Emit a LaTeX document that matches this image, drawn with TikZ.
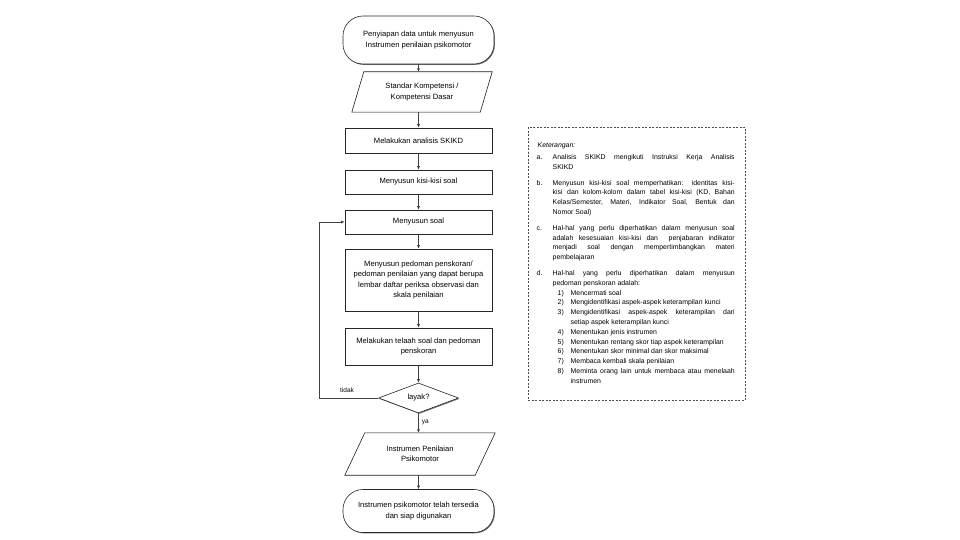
\documentclass[tikz,border=0pt]{standalone}
\usepackage{fontspec}
\setmainfont{Liberation Sans}
\usetikzlibrary{shapes.geometric,shadows,calc,arrows.meta}
\pgfdeclarelayer{bg}
\pgfsetlayers{bg,main}
\newcommand{\jl}[2]{\makebox[#1][s]{#2}}
\begin{document}
\begin{tikzpicture}[x=1pt,y=-1pt,
  font=\fontsize{7.6}{10.5}\selectfont,
  ds/.style={drop shadow={shadow xshift=0.9pt,shadow yshift=-0.9pt,fill=black!55,opacity=1}},
  box/.style={draw=black!85,line width=0.6pt,fill=white,ds,rectangle,minimum width=147pt,align=center,inner sep=1pt},
  term/.style={box,rounded corners=20pt,minimum width=151pt,minimum height=48pt},
  para/.style={rectangle,align=center,inner sep=0pt},
  pshape/.style={draw=black!85,line width=0.6pt,fill=white},
  pshadow/.style={fill=black!55},
  conn/.style={draw=black!75,line width=0.6pt,-{Latex[length=3.5pt,width=3pt]}},
  lbl/.style={font=\fontsize{6.5}{8}\selectfont,inner sep=0pt},
  keybox/.style={draw=black!70,line width=0.5pt,dash pattern=on 2pt off 1.5pt,rectangle,inner sep=0pt}
]
\useasboundingbox (0,0) rectangle (960,540);

% flow nodes
\node[term] (start) at (418.5,40) {Penyiapan data untuk menyusun\\Instrumen penilaian psikomotor};
\node[para,minimum width=140pt,minimum height=40pt] (p1) at (422,92) {Standar Kompetensi /\\Kompetensi Dasar};
\node[box,minimum height=25pt] (b1) at (418.5,140.5) {Melakukan analisis SKIKD};
\node[box,minimum height=24pt] (b2) at (418.5,182) {Menyusun kisi-kisi soal};
\node[box,minimum height=24pt] (b3) at (418.5,222) {Menyusun soal};
\node[box,minimum height=62pt] (b4) at (418.5,280) {Menyusun pedoman penskoran/\\pedoman penilaian yang dapat berupa\\lembar daftar periksa observasi dan\\skala penilaian};
\node[box,minimum height=37pt] (b5) at (418.5,346.5) {Melakukan telaah soal dan pedoman\\penskoran};
\node[draw=black!85,line width=0.6pt,fill=white,ds,diamond,minimum width=80pt,minimum height=30pt,inner sep=0pt] (d) at (418.5,398) {layak?};
\node[para,minimum width=150pt,minimum height=42pt] (p2) at (420,454) {Instrumen Penilaian\\Psikomotor};
\node[term,minimum height=43pt] (end) at (418.5,511) {Instrumen psikomotor telah tersedia\\dan siap digunakan};

% parallelogram outlines
\begin{pgfonlayer}{bg}
\path[pshadow,shift={(0.9,0.9)}] ($(p1.north west)+(12,0)$) -- (p1.north east) -- ($(p1.south east)+(-12,0)$) -- (p1.south west) -- cycle;
\path[pshape] ($(p1.north west)+(12,0)$) -- (p1.north east) -- ($(p1.south east)+(-12,0)$) -- (p1.south west) -- cycle;
\path[pshadow,shift={(0.9,0.9)}] ($(p2.north west)+(20,0)$) -- (p2.north east) -- ($(p2.south east)+(-20,0)$) -- (p2.south west) -- cycle;
\path[pshape] ($(p2.north west)+(20,0)$) -- (p2.north east) -- ($(p2.south east)+(-20,0)$) -- (p2.south west) -- cycle;
\end{pgfonlayer}

% connectors
\draw[conn] (start.south) -- (start.south |- p1.north);
\draw[conn] (b1.north |- p1.south) -- (b1.north);
\draw[conn] (b1) -- (b2);
\draw[conn] (b2) -- (b3);
\draw[conn] (b3) -- (b4);
\draw[conn] (b4) -- (b5);
\draw[conn] (b5) -- (d);
\draw[conn] (d.south) -- (d.south |- p2.north) node[lbl,pos=0.45,right=3pt] (ya) {ya};
\draw[conn] (end.north |- p2.south) -- (end.north);
\coordinate (lp) at (319,398);
\draw[conn] (d.west) -- (lp) |- (b3.west);
\node[lbl] (tidak) at (347,390) {tidak};

% key box
\node[keybox,minimum width=217pt,minimum height=273pt,anchor=north west] (key) at (528,127) {};
\node[anchor=base west,inner sep=0pt] (keytxt) at (536.5,147.5) {%
\begin{minipage}[t]{205pt}
\fontsize{6.9}{9.8}\selectfont
\hspace*{1pt}\textit{Keterangan:}\\[2.2pt]
\makebox[16pt][l]{a.}\jl{182pt}{Analisis SKIKD mengikuti Instruksi Kerja Analisis}\\
\hspace*{16pt}SKIKD\\[6pt]
\makebox[16pt][l]{b.}\jl{182pt}{Menyusun kisi-kisi soal memperhatikan: identitas kisi-}\\
\hspace*{16pt}\jl{182pt}{kisi dan kolom-kolom dalam tabel kisi-kisi (KD, Bahan}\\
\hspace*{16pt}\jl{182pt}{Kelas/Semester, Materi, Indikator Soal, Bentuk dan}\\
\hspace*{16pt}Nomor Soal)\\[6pt]
\makebox[16pt][l]{c.}\jl{182pt}{Hal-hal yang perlu diperhatikan dalam menyusun soal}\\
\hspace*{16pt}\jl{182pt}{adalah kesesuaian kisi-kisi dan \ penjabaran indikator}\\
\hspace*{16pt}\jl{182pt}{menjadi soal dengan mempertimbangkan materi}\\
\hspace*{16pt}pembelajaran\\[6pt]
\makebox[16pt][l]{d.}\jl{182pt}{Hal-hal yang perlu diperhatikan dalam menyusun}\\
\hspace*{16pt}pedoman penskoran adalah:\\
\hspace*{21pt}\makebox[13pt][l]{1)}Mencermati soal\\
\hspace*{21pt}\makebox[13pt][l]{2)}Mengidentifikasi aspek-aspek keterampilan kunci\\
\hspace*{21pt}\makebox[13pt][l]{3)}\jl{164pt}{Mengidentifikasi aspek-aspek keterampilan dari}\\
\hspace*{34pt}setiap aspek keterampilan kunci\\
\hspace*{21pt}\makebox[13pt][l]{4)}Menentukan jenis instrumen\\
\hspace*{21pt}\makebox[13pt][l]{5)}Menentukan rentang skor tiap aspek keterampilan\\
\hspace*{21pt}\makebox[13pt][l]{6)}Menentukan skor minimal dan skor maksimal\\
\hspace*{21pt}\makebox[13pt][l]{7)}Membaca kembali skala penilaian\\
\hspace*{21pt}\makebox[13pt][l]{8)}\jl{164pt}{Meminta orang lain untuk membaca atau menelaah}\\
\hspace*{34pt}instrumen
\end{minipage}};
\end{tikzpicture}
\end{document}
